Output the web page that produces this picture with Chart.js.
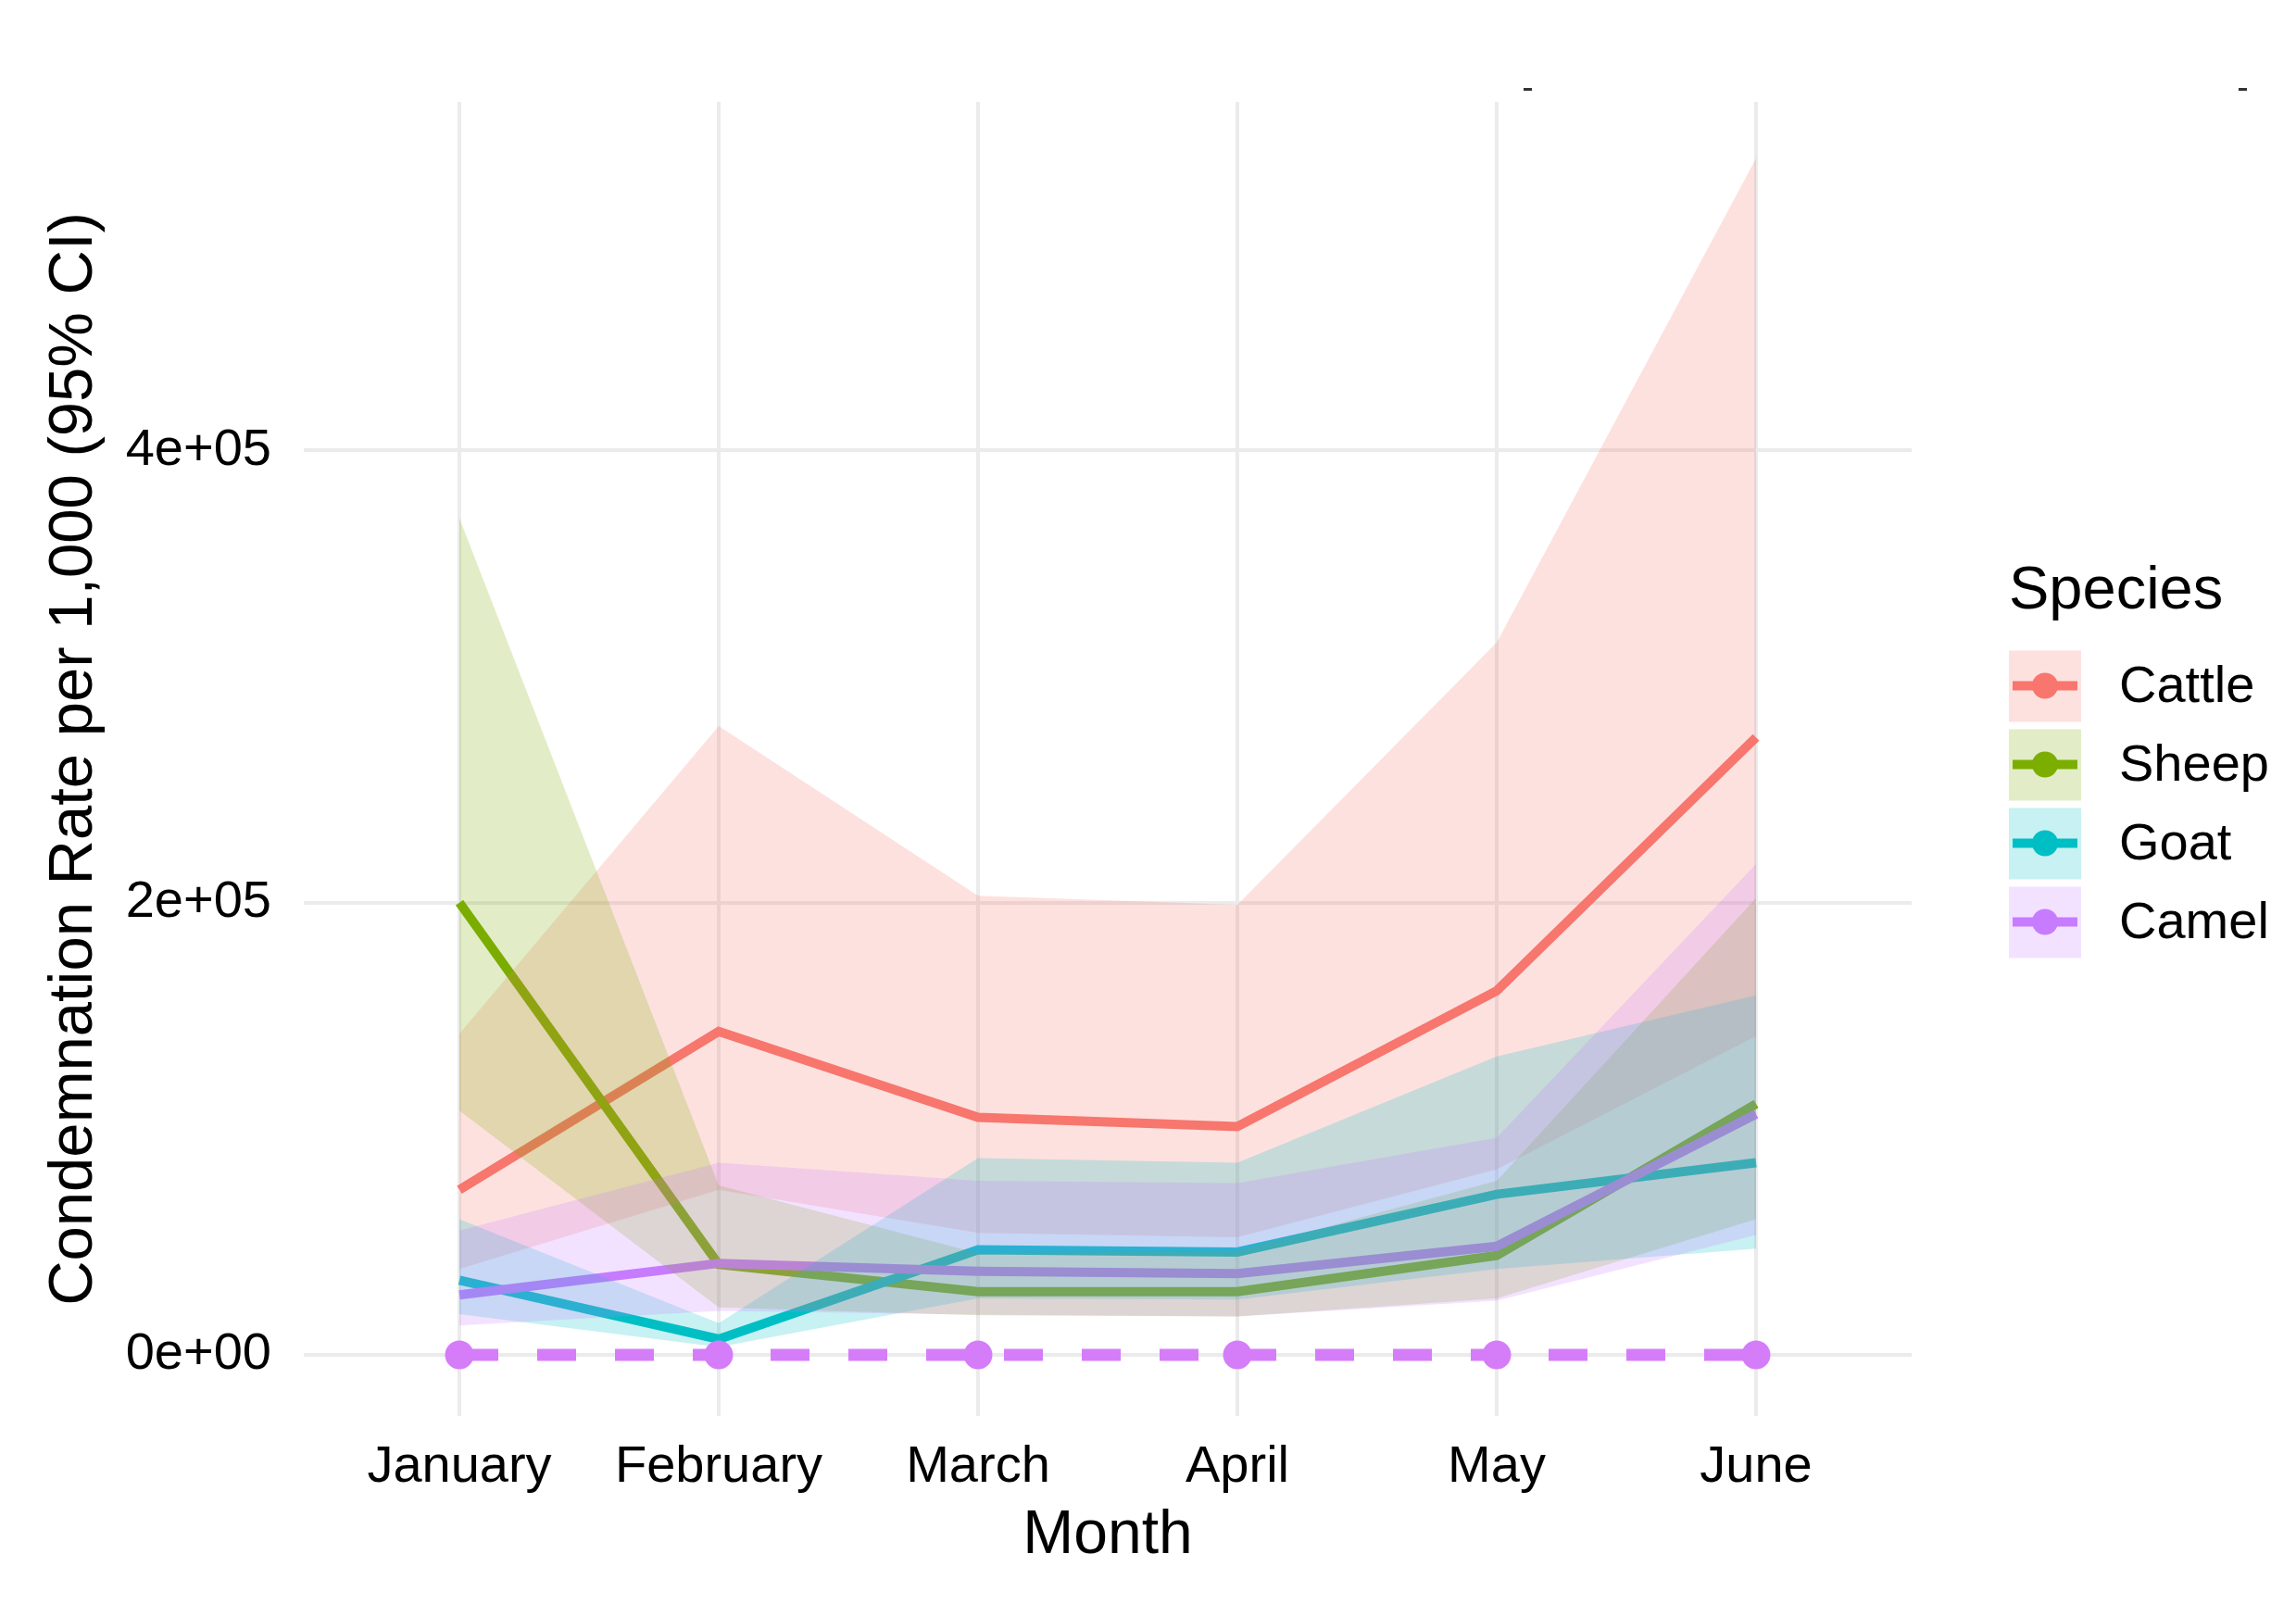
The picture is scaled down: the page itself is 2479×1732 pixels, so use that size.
<!DOCTYPE html>
<html>
<head>
<meta charset="utf-8">
<script src="https://cdn.jsdelivr.net/npm/chart.js@4.4.1/dist/chart.umd.min.js"></script>
<style>
  html, body { margin: 0; padding: 0; background: #fff; }
  #wrap { width: 2479px; height: 1732px; }
</style>
</head>
<body>
<div id="wrap"><canvas id="chart" width="2479" height="1732"></canvas></div>
<script>
const months = ['January', 'February', 'March', 'April', 'May', 'June'];
const yTicks = [0, 200000, 400000];

// condemnation rate per species, with 95% CI bounds
const cattle     = [73000, 143000, 105000, 101000, 161000, 273000];
const cattleLow  = [38000, 73000, 54000, 52000, 82000, 141000];
const cattleHigh = [142000, 278000, 203000, 199000, 315000, 529000];

const sheep      = [200000, 40000, 28000, 28000, 44000, 111000];
const sheepLow   = [108000, 21000, 17500, 17000, 25000, 60000];
const sheepHigh  = [370000, 75000, 45000, 46000, 77000, 202000];

const goat       = [33000, 7000, 46500, 45500, 71000, 85000];
const goatLow    = [18000, 3500, 25000, 24500, 38000, 47000];
const goatHigh   = [60000, 14000, 87000, 85000, 132000, 159000];

const camel      = [26500, 40500, 37000, 36000, 48000, 106500];
const camelLow   = [13000, 19500, 17800, 17000, 24000, 53000];
const camelHigh  = [55000, 85000, 77000, 76000, 96000, 217000];

const camelZero  = [0, 0, 0, 0, 0, 0];

const series = [
  { name: 'Cattle', color: '#F8766D', mid: cattle, low: cattleLow, high: cattleHigh },
  { name: 'Sheep',  color: '#7CAE00', mid: sheep,  low: sheepLow,  high: sheepHigh },
  { name: 'Goat',   color: '#00BFC4', mid: goat,   low: goatLow,   high: goatHigh },
  { name: 'Camel',  color: '#C77CFF', mid: camel,  low: camelLow,  high: camelHigh }
];

const FONT = '"Liberation Sans", Arial, sans-serif';
const ALPHA = 0.22;

const pts = arr => arr.map((v, i) => ({ x: i, y: v }));

const fade = (hex, a) => {
  const n = parseInt(hex.slice(1), 16);
  return `rgba(${(n >> 16) & 255}, ${(n >> 8) & 255}, ${n & 255}, ${a})`;
};

const sci = v => {
  if (v === 0) return '0e+00';
  const e = Math.floor(Math.log10(Math.abs(v)));
  const m = Math.round(v / Math.pow(10, e));
  return m + 'e+' + String(e).padStart(2, '0');
};

const datasets = [];
datasets.push({
  label: 'Camel (zero)',
  data: pts(camelZero),
  borderColor: '#D57DF9',
  backgroundColor: '#D57DF9',
  borderWidth: 13,
  borderDash: [42, 42],
  pointRadius: 15.5,
  pointBorderWidth: 0,
  pointBackgroundColor: '#D57DF9',
  fill: false,
  order: 0
});

series.forEach((s, k) => {
  datasets.push({
    label: s.name + ' upper',
    data: pts(s.high),
    fill: '+1',
    backgroundColor: fade(s.color, ALPHA),
    borderColor: 'transparent',
    borderWidth: 0,
    pointRadius: 0,
    order: 4 - k
  });
  datasets.push({
    label: s.name + ' lower',
    data: pts(s.low),
    fill: false,
    borderColor: 'transparent',
    borderWidth: 0,
    pointRadius: 0,
    order: 4 - k
  });
  datasets.push({
    label: s.name,
    data: pts(s.mid),
    fill: false,
    borderColor: s.color,
    borderWidth: 10,
    pointRadius: 0,
    order: 8 - k
  });
});

const speciesLegend = {
  id: 'speciesLegend',
  afterDraw(chart) {
    const { ctx, chartArea } = chart;
    const x0 = chartArea.right + 105;
    const mid = (chartArea.top + chartArea.bottom) / 2;
    ctx.save();
    ctx.fillStyle = '#000';
    ctx.font = `65px ${FONT}`;
    ctx.textBaseline = 'alphabetic';
    ctx.textAlign = 'left';
    ctx.fillText('Species', x0, mid - 163);
    series.forEach((s, k) => {
      const top = mid - 117 + k * 85;
      const cy = top + 38;
      ctx.fillStyle = fade(s.color, ALPHA);
      ctx.fillRect(x0, top, 78, 77);
      ctx.strokeStyle = s.color;
      ctx.lineWidth = 10;
      ctx.beginPath();
      ctx.moveTo(x0 + 4, cy);
      ctx.lineTo(x0 + 74, cy);
      ctx.stroke();
      ctx.fillStyle = s.color;
      ctx.beginPath();
      ctx.arc(x0 + 39, cy, 14, 0, Math.PI * 2);
      ctx.fill();
      ctx.fillStyle = '#000';
      ctx.font = `56px ${FONT}`;
      ctx.textBaseline = 'middle';
      ctx.fillText(s.name, x0 + 119, cy + 2);
    });
    // two small stray marks along the top edge of the original figure
    ctx.fillStyle = '#333';
    ctx.fillRect(chartArea.left + 1317, 95, 9, 3);
    ctx.fillRect(chartArea.right + 353, 95, 9, 3);
    ctx.restore();
  }
};

const ctx = document.getElementById('chart').getContext('2d');

new Chart(ctx, {
  type: 'line',
  data: { datasets: datasets },
  options: {
    responsive: false,
    animation: false,
    devicePixelRatio: 1,
    layout: { padding: { top: 110, right: 415, bottom: 0, left: 0 } },
    elements: { line: { tension: 0 } },
    plugins: {
      legend: { display: false },
      tooltip: { enabled: false }
    },
    scales: {
      x: {
        type: 'linear',
        min: -0.6,
        max: 5.6,
        afterBuildTicks: scale => {
          scale.ticks = months.map((m, i) => ({ value: i }));
        },
        afterFit: scale => { scale.height = 203; },
        ticks: {
          callback: v => months[v],
          autoSkip: false,
          maxRotation: 0,
          padding: 22,
          color: '#000',
          font: { family: FONT, size: 56 }
        },
        grid: { color: '#EBEBEB', lineWidth: 4, drawTicks: false },
        border: { display: false },
        title: {
          display: true,
          text: 'Month',
          color: '#000',
          font: { family: FONT, size: 66 },
          padding: { top: 0, bottom: 34 }
        }
      },
      y: {
        min: -27000,
        max: 554000,
        afterBuildTicks: scale => {
          scale.ticks = yTicks.map(v => ({ value: v }));
        },
        afterFit: scale => { scale.width = 328; },
        ticks: {
          callback: v => sci(v),
          padding: 35,
          color: '#000',
          font: { family: FONT, size: 56 }
        },
        grid: { color: '#EBEBEB', lineWidth: 4, drawTicks: false },
        border: { display: false },
        title: {
          display: true,
          text: 'Condemnation Rate per 1,000 (95% CI)',
          color: '#000',
          font: { family: FONT, size: 67 },
          padding: { top: 40, bottom: 0 }
        }
      }
    }
  },
  plugins: [speciesLegend]
});
</script>
</body>
</html>
